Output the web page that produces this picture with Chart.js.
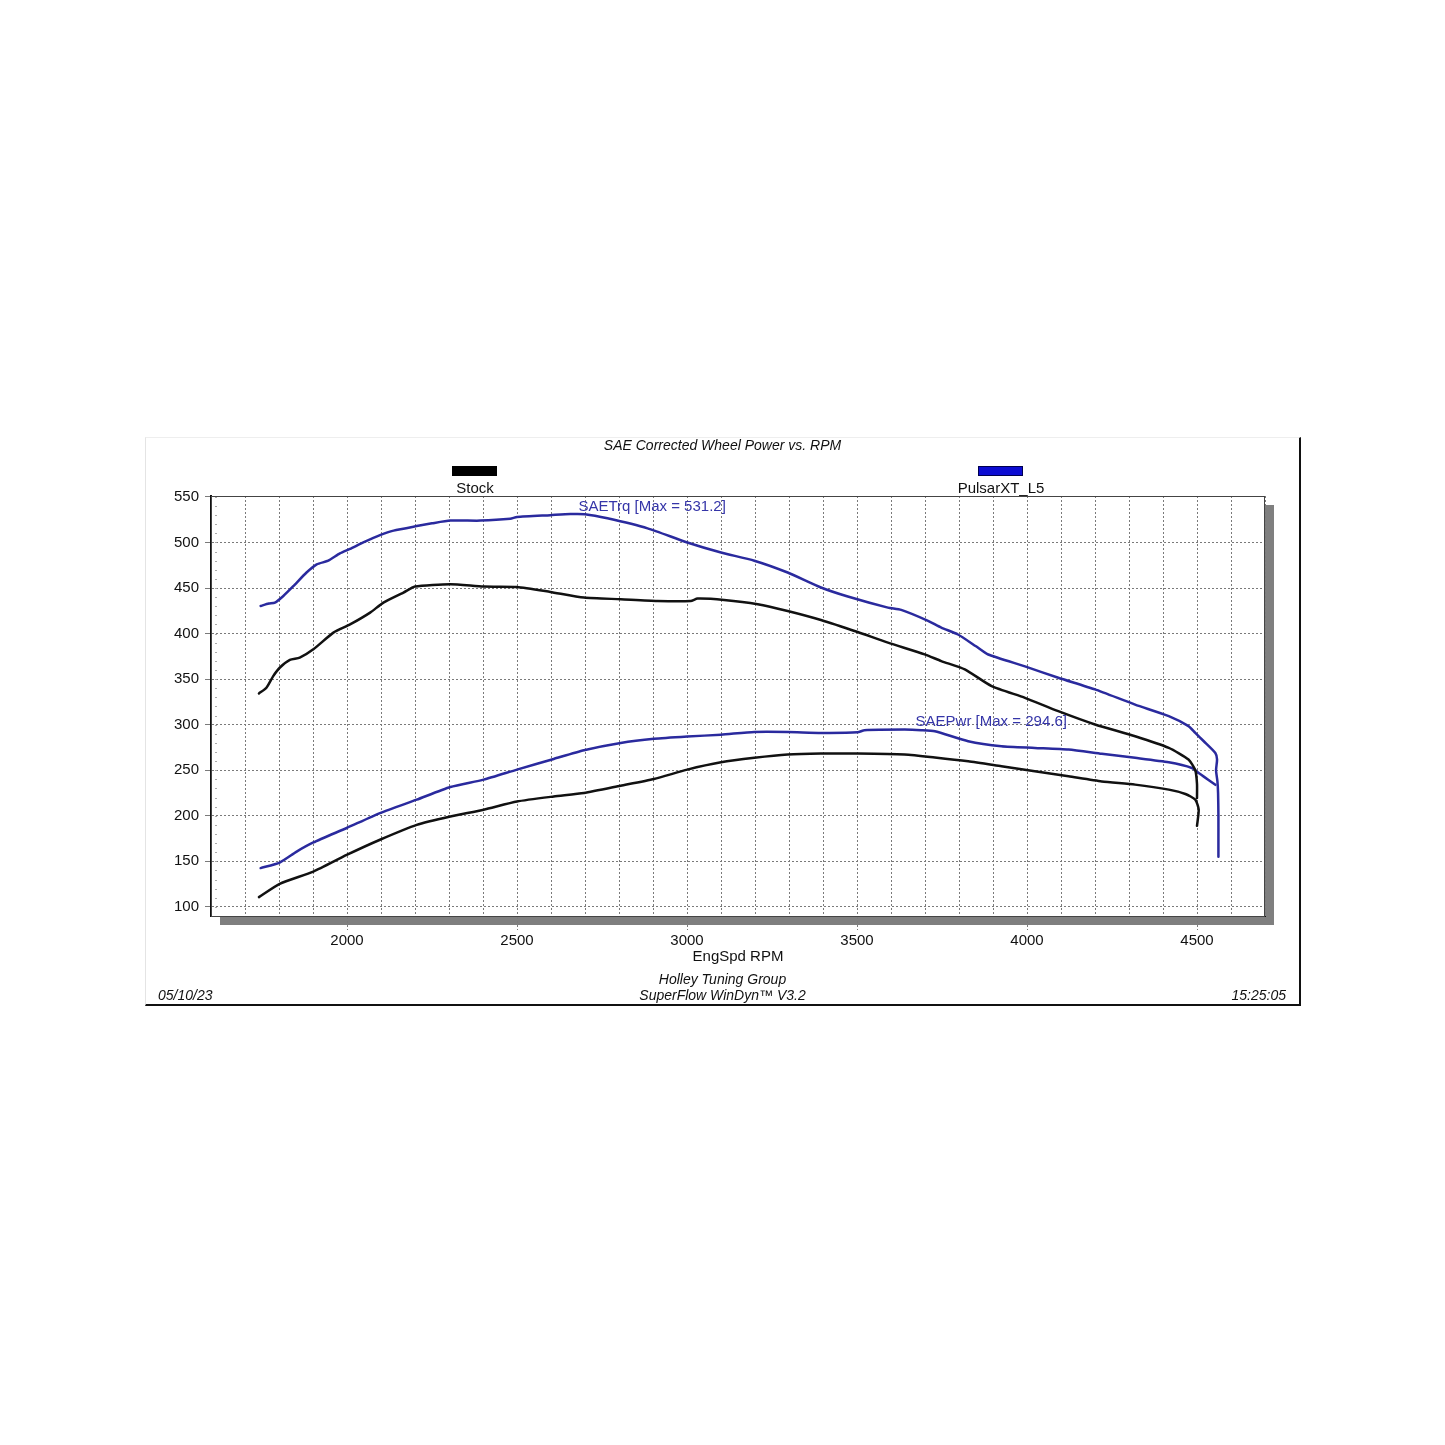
<!DOCTYPE html>
<html>
<head>
<meta charset="utf-8">
<script src="https://cdn.jsdelivr.net/npm/chart.js@4/dist/chart.umd.min.js"></script>
<style>
  html, body { margin: 0; padding: 0; background: #fff; }
  #wrap { position: relative; width: 1445px; height: 1445px; overflow: hidden; font-family: "Liberation Sans", Arial, sans-serif; color: #111; }
  #c { position: absolute; left: 0; top: 0; }
  .t { position: absolute; white-space: nowrap; line-height: 1; }
  .it { font-style: italic; font-size: 14px; }
  #frame { position: absolute; left: 145px; top: 437px; width: 1153px; height: 566px; border-right: 2px solid #111; border-bottom: 2px solid #111; border-left: 1px solid #e4e4e4; border-top: 1px solid #eeeeee; }
  .sw { position: absolute; top: 466px; width: 45px; height: 10px; }
</style>
</head>
<body>
<div id="wrap">
  <div id="frame"></div>
  <canvas id="c" width="1445" height="1445"></canvas>
  <div class="t it" style="left:0;width:1445px;text-align:center;top:438px;">SAE Corrected Wheel Power vs. RPM</div>
  <div class="sw" style="left:452px;background:#000;"></div>
  <div class="sw" style="left:978px;background:#0c0cd2;box-shadow: inset 0 0 0 1px #000050;"></div>
  <div class="t" style="left:375px;width:200px;text-align:center;top:480px;font-size:15px;">Stock</div>
  <div class="t" style="left:901px;width:200px;text-align:center;top:480px;font-size:15px;">PulsarXT_L5</div>
  <div class="t it" style="left:0;width:1445px;text-align:center;top:972px;">Holley Tuning Group</div>
  <div class="t it" style="left:0;width:1445px;text-align:center;top:988px;">SuperFlow WinDyn™ V3.2</div>
  <div class="t it" style="left:158px;top:988px;">05/10/23</div>
  <div class="t it" style="right:159px;top:988px;">15:25:05</div>
</div>
<script>
// ---- Data ----
const yTickValues = [100, 150, 200, 250, 300, 350, 400, 450, 500, 550];
const xLabelValues = [2000, 2500, 3000, 3500, 4000, 4500];

// PulsarXT_L5 SAE torque
const pulsarTrqRpm = [1746, 1770, 1788, 1812, 1842, 1881, 1911, 1945, 1979, 2009, 2048, 2097, 2137, 2205, 2250, 2304, 2392, 2480, 2500, 2598, 2657, 2700, 2766, 2884, 3001, 3100, 3198, 3296, 3394, 3473, 3591, 3630, 3709, 3748, 3797, 3850, 3886, 3994, 4092, 4200, 4318, 4417, 4475, 4495, 4520, 4554, 4559, 4556, 4560, 4562, 4563, 4563, 4563];
const pulsarTrq    = [430.3, 433, 434, 441, 452, 467, 476, 480, 488, 493, 500, 508, 513, 518, 521, 524, 524, 526, 528, 530, 531.2, 531, 526.5, 515.5, 500, 489, 480, 467, 450.6, 440.7, 428.5, 426, 414, 406.5, 399, 386, 377, 364, 351.5, 338.7, 322, 309.4, 298.4, 291, 281.8, 269, 261.7, 250, 238, 225, 200, 175, 155];

// PulsarXT_L5 SAE power
const pulsarPwrRpm = [1746, 1802, 1852, 1901, 1999, 2097, 2205, 2304, 2402, 2500, 2608, 2697, 2805, 2903, 3001, 3100, 3198, 3296, 3394, 3502, 3522, 3640, 3689, 3729, 3827, 3925, 4023, 4122, 4220, 4318, 4417, 4485, 4505, 4520, 4554];
const pulsarPwr    = [142.6, 148.7, 160.7, 170.7, 186.6, 203, 217.7, 231.6, 239.7, 250.7, 262.4, 272, 280, 284.5, 287, 289, 292, 292, 291, 291.6, 294, 294.6, 294, 292.8, 281.8, 276.3, 274.5, 272.7, 268, 263.6, 258.7, 252.5, 247, 243, 234];

// Stock SAE torque
const stockTrqRpm = [1741, 1763, 1783, 1802, 1832, 1861, 1901, 1960, 2009, 2068, 2107, 2166, 2200, 2304, 2402, 2500, 2598, 2697, 2805, 2913, 3011, 3031, 3109, 3208, 3296, 3394, 3502, 3591, 3699, 3748, 3817, 3896, 3994, 4092, 4200, 4318, 4417, 4475, 4495, 4500, 4500];
const stockTrq    = [334.3, 340.5, 353.3, 362.5, 371, 373.5, 382.7, 401, 410, 423, 434, 445, 451.6, 454.2, 451.6, 451.2, 445.7, 439.5, 437.7, 435.8, 435.8, 438.4, 436.9, 432.2, 424.8, 414.9, 401.7, 390, 377.2, 369.8, 360.7, 342.3, 329.5, 314.8, 300.2, 287.3, 274.5, 261.7, 250, 235, 219.6];

// Stock SAE power
const stockPwrRpm = [1741, 1802, 1901, 1999, 2097, 2205, 2304, 2402, 2500, 2608, 2697, 2805, 2903, 3001, 3100, 3198, 3296, 3394, 3502, 3640, 3729, 3827, 3925, 4023, 4122, 4220, 4318, 4417, 4466, 4495, 4505, 4500];
const stockPwr    = [110.7, 125.3, 138.8, 157, 173.7, 190, 199.2, 206.7, 215.7, 221.2, 225, 233, 240.4, 250.7, 258.7, 263.6, 267.2, 268.3, 268.3, 267.2, 264, 259.8, 254.3, 248.8, 243.3, 237.7, 234.2, 228.7, 223.9, 217.7, 206.7, 189];

const toXY = (xs, ys) => xs.map((x, i) => ({ x: x, y: ys[i] }));
const BLUE = '#2a2a9e';
const BLACK = '#111111';
const FONT = '"Liberation Sans", Arial, sans-serif';

function maxIndex(a) { let m = 0; a.forEach((v, i) => { if (v > a[m]) m = i; }); return m; }

const decor = {
  id: 'decor',
  beforeDraw(chart) {
    const { ctx, chartArea: a } = chart;
    ctx.save();
    ctx.fillStyle = '#7f7f7f';
    ctx.fillRect(a.left + 9, a.top + 9, a.right - a.left, a.bottom - a.top);
    ctx.fillStyle = '#ffffff';
    ctx.fillRect(a.left, a.top, a.right - a.left, a.bottom - a.top);
    ctx.restore();
  },
  afterDatasetsDraw(chart) {
    const { ctx, chartArea: a, scales } = chart;
    ctx.save();
    ctx.strokeStyle = '#444';
    ctx.lineWidth = 1;
    ctx.strokeRect(a.left + 0.5, a.top + 0.5, a.right - a.left - 1, a.bottom - a.top);
    ctx.strokeStyle = '#aaa';
    for (let v = 100; v <= 550; v += 10) {
      const y = Math.round(scales.y.getPixelForValue(v)) + 0.5;
      ctx.beginPath(); ctx.moveTo(a.left + 4, y); ctx.lineTo(a.left + 6, y); ctx.stroke();
    }
    ctx.fillStyle = '#3535a8';
    ctx.font = '15px ' + FONT;
    ctx.textBaseline = 'middle';
    const ti = maxIndex(pulsarTrq);
    ctx.fillText('SAETrq [Max = ' + pulsarTrq[ti].toFixed(1) + ']',
      scales.x.getPixelForValue(pulsarTrqRpm[ti]) + 8, scales.y.getPixelForValue(pulsarTrq[ti]) - 7);
    const pi = maxIndex(pulsarPwr);
    ctx.fillText('SAEPwr [Max = ' + pulsarPwr[pi].toFixed(1) + ']',
      scales.x.getPixelForValue(pulsarPwrRpm[pi]) + 11, scales.y.getPixelForValue(pulsarPwr[pi]) - 8);
    ctx.restore();
  }
};

const mk = (label, data, color) => ({
  label, data, borderColor: color, backgroundColor: color,
  borderWidth: 2.5, pointRadius: 0, tension: 0.2, fill: false,
  borderJoinStyle: 'round', borderCapStyle: 'round'
});

new Chart(document.getElementById('c'), {
  type: 'line',
  data: {
    datasets: [
      mk('Stock SAETrq', toXY(stockTrqRpm, stockTrq), BLACK),
      mk('Stock SAEPwr', toXY(stockPwrRpm, stockPwr), BLACK),
      mk('PulsarXT_L5 SAETrq', toXY(pulsarTrqRpm, pulsarTrq), BLUE),
      mk('PulsarXT_L5 SAEPwr', toXY(pulsarPwrRpm, pulsarPwr), BLUE)
    ]
  },
  options: {
    responsive: false,
    animation: false,
    devicePixelRatio: 1,
    layout: { padding: { left: 0, top: 496, right: 180, bottom: 479 } },
    plugins: { legend: { display: false }, title: { display: false }, tooltip: { enabled: false } },
    scales: {
      x: {
        type: 'linear', min: 1600, max: 4700,
        afterFit: s => { s.height = 50; },
        ticks: {
          stepSize: 100, autoSkip: false, maxRotation: 0, padding: 2,
          color: '#111', font: { family: FONT, size: 15 },
          callback: v => (xLabelValues.includes(v) ? String(v) : '')
        },
        grid: {
          color: '#7a7a7a', lineWidth: 1, drawTicks: true, tickLength: 14,
          tickColor: c => (c.tick && xLabelValues.includes(c.tick.value) ? '#7a7a7a' : 'rgba(0,0,0,0)'),
          tickBorderDash: [2, 2]
        },
        border: { display: true, color: '#111', width: 1, dash: [2, 2] },
        title: { display: true, text: 'EngSpd RPM', color: '#111', font: { family: FONT, size: 15 }, padding: { top: 0, bottom: 0 } }
      },
      y: {
        type: 'linear', min: 90, max: 551,
        afterFit: s => { s.width = 211; },
        afterBuildTicks: s => { s.ticks = yTickValues.map(v => ({ value: v })); },
        ticks: { padding: 6, color: '#111', font: { family: FONT, size: 15 } },
        grid: { color: '#7a7a7a', lineWidth: 1, drawTicks: true, tickLength: 6 },
        border: { display: true, color: '#111', width: 2, dash: [2, 2] }
      }
    }
  },
  plugins: [decor]
});
</script>
</body>
</html>
